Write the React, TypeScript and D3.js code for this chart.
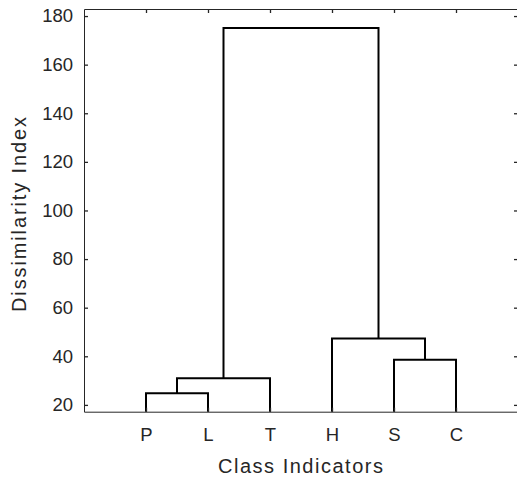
import { useEffect, useRef } from "react"
import * as d3 from "d3"

// leaf labels in dendrogram order
const leafLabels = ["P", "L", "T", "H", "S", "C"]

// linkage: nodes 0..5 are leaves, merge i creates node 6 + i
const linkA = [0, 6, 4, 3, 7]
const linkB = [1, 2, 5, 8, 9]
const linkHeight = [24.8, 31.0, 38.6, 47.3, 175.1]

const yTicks = [20, 40, 60, 80, 100, 120, 140, 160, 180]
const yDomain: [number, number] = [17.2, 182.9]
const xDomain: [number, number] = [0, 7]

const width = 517
const height = 479
const plot = { left: 84, right: 518, top: 9, bottom: 411.7 }
const axisColor = "#262626"
const font = "'Liberation Sans', Arial, Helvetica, sans-serif"

export default function App() {
  const svgRef = useRef<SVGSVGElement>(null)

  useEffect(() => {
    if (!svgRef.current) return
    const svg = d3.select(svgRef.current)
    svg.selectAll("*").remove()

    const x = d3.scaleLinear().domain(xDomain).range([plot.left, plot.right])
    const y = d3.scaleLinear().domain(yDomain).range([plot.bottom, plot.top])

    // node positions
    const nodeX: number[] = leafLabels.map((_, i) => i + 1)
    const nodeY: number[] = leafLabels.map(() => 0)
    linkA.forEach((a, i) => {
      const b = linkB[i]
      nodeX.push((nodeX[a] + nodeX[b]) / 2)
      nodeY.push(linkHeight[i])
    })

    svg
      .append("defs")
      .append("clipPath")
      .attr("id", "plot-clip")
      .append("rect")
      .attr("x", plot.left)
      .attr("y", plot.top)
      .attr("width", plot.right - plot.left)
      .attr("height", plot.bottom - plot.top)

    // dendrogram links
    const links = svg.append("g").attr("clip-path", "url(#plot-clip)")
    linkA.forEach((a, i) => {
      const b = linkB[i]
      const h = linkHeight[i]
      const p = d3.path()
      p.moveTo(x(nodeX[a]), y(nodeY[a]))
      p.lineTo(x(nodeX[a]), y(h))
      p.lineTo(x(nodeX[b]), y(h))
      p.lineTo(x(nodeX[b]), y(nodeY[b]))
      links
        .append("path")
        .attr("d", p.toString())
        .attr("fill", "none")
        .attr("stroke", "#000")
        .attr("stroke-width", 2)
        .attr("stroke-linejoin", "miter")
    })

    const leafTicks = leafLabels.map((_, i) => i + 1)

    const styleAxis = (g: d3.Selection<SVGGElement, unknown, null, undefined>) => {
      g.select(".domain").attr("stroke", axisColor).attr("stroke-width", 1)
      g.selectAll(".tick line").attr("stroke", axisColor).attr("stroke-width", 1.3)
      g.selectAll("text").attr("fill", axisColor).attr("font-family", font).attr("font-size", 18.5)
    }

    // left axis
    svg
      .append("g")
      .attr("transform", `translate(${plot.left},0)`)
      .call(d3.axisLeft(y).tickValues(yTicks).tickSize(-4).tickSizeOuter(0).tickPadding(11))
      .call(styleAxis)

    // right axis (ticks only)
    svg
      .append("g")
      .attr("transform", `translate(${plot.right},0)`)
      .call(d3.axisRight(y).tickValues(yTicks).tickSize(-4).tickSizeOuter(0).tickFormat(() => ""))
      .call(styleAxis)

    // top axis (ticks only)
    svg
      .append("g")
      .attr("transform", `translate(0,${plot.top})`)
      .call(d3.axisTop(x).tickValues(leafTicks).tickSize(-4).tickSizeOuter(0).tickFormat(() => ""))
      .call(styleAxis)

    // bottom axis with leaf labels
    svg
      .append("g")
      .attr("transform", `translate(0,${plot.bottom})`)
      .call(
        d3
          .axisBottom(x)
          .tickValues(leafTicks)
          .tickSize(-4)
          .tickSizeOuter(0)
          .tickPadding(16.5)
          .tickFormat((d) => leafLabels[(d as number) - 1]),
      )
      .call(styleAxis)

    // axis titles
    svg
      .append("text")
      .attr("x", 300.5)
      .attr("y", 473)
      .attr("text-anchor", "middle")
      .attr("fill", axisColor)
      .attr("font-family", font)
      .attr("font-size", 20)
      .attr("textLength", 165)
      .attr("lengthAdjust", "spacing")
      .text("Class Indicators")

    svg
      .append("text")
      .attr("transform", `translate(26,214.5) rotate(-90)`)
      .attr("text-anchor", "middle")
      .attr("fill", axisColor)
      .attr("font-family", font)
      .attr("font-size", 20)
      .attr("textLength", 195)
      .attr("lengthAdjust", "spacing")
      .text("Dissimilarity Index")
  }, [])

  return (
    <svg
      ref={svgRef}
      width={width}
      height={height}
      style={{ position: "absolute", left: 0, top: 0, background: "#fff" }}
    />
  )
}
